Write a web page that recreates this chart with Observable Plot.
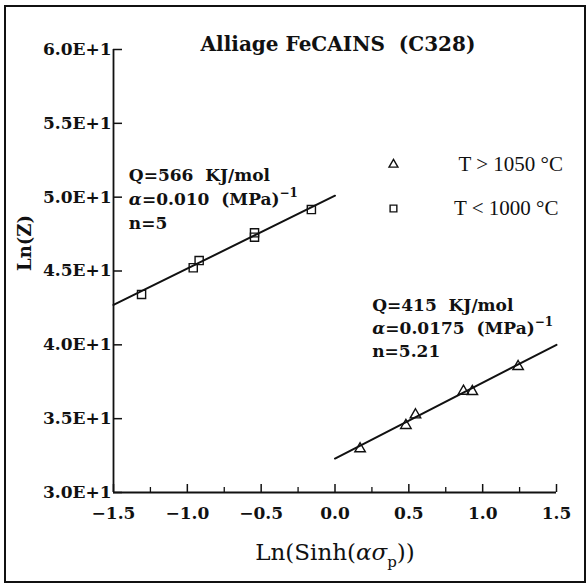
<!DOCTYPE html>
<html>
<head>
<meta charset="utf-8">
<script src="https://cdn.jsdelivr.net/npm/d3@7"></script>
<script src="https://cdn.jsdelivr.net/npm/@observablehq/plot@0.6"></script>
<style>
  html, body { margin: 0; padding: 0; background: #fff; }
  #wrap { position: relative; width: 588px; height: 584px; overflow: hidden; background: #fff; }
  #frame { position: absolute; left: 4px; top: 5px; width: 578px; height: 574px; border: 2px solid #111; pointer-events: none; }
</style>
</head>
<body>
<div id="wrap"><div id="frame"></div></div>
<script>
// ---- data ----
const squareX = [-1.31, -0.96, -0.92, -0.545, -0.545, -0.16];
const squareY = [43.41, 45.22, 45.71, 47.29, 47.59, 49.16];
const triangleX = [0.17, 0.48, 0.545, 0.87, 0.93, 1.24];
const triangleY = [32.96, 34.54, 35.26, 36.86, 36.84, 38.53];
const fitUpperX = [-1.5, 0.0];
const fitUpperY = [42.7, 50.1];
const fitLowerX = [0.0, 1.5];
const fitLowerY = [32.3, 40.0];
const xMajorTicks = [-1.5, -1.0, -0.5, 0.0, 0.5, 1.0, 1.5];
const xMinorTicks = [-1.25, -0.75, -0.25, 0.25, 0.75, 1.25];
const yMajorTicks = [30, 35, 40, 45, 50, 55, 60];
const titleText = "Alliage FeCAINS  (C328)";
const xLabel = "Ln(Sinh(ασ{sub:p}))";
const yLabel = "Ln(Z)";
const upperNote = ["Q=566  KJ/mol", "α=0.010  (MPa){sup:−1}", "n=5"];
const lowerNote = ["Q=415  KJ/mol", "α=0.0175  (MPa){sup:−1}", "n=5.21"];
const legendLabels = ["T > 1050 °C", "T < 1000 °C"];
const legendSymbols = ["triangle", "square"];

const squares = squareX.map((x, i) => ({x, y: squareY[i]}));
const triangles = triangleX.map((x, i) => ({x, y: triangleY[i]}));
const fitUpper = fitUpperX.map((x, i) => ({x, y: fitUpperY[i]}));
const fitLower = fitLowerX.map((x, i) => ({x, y: fitLowerY[i]}));

const serif = "DejaVu Serif";
const noteFont = {fontFamily: serif, fontWeight: "bold", fontSize: 17, textAnchor: "start", lineAnchor: "middle", fill: "#111"};

const chart = Plot.plot({
  width: 588,
  height: 584,
  marginLeft: 113,
  marginRight: 32,
  marginTop: 49,
  marginBottom: 92,
  x: {domain: [-1.5, 1.5]},
  y: {domain: [30, 60]},
  style: {fontFamily: serif, fontSize: "17px", fontWeight: "bold", background: "white", color: "#111"},
  marks: [
    // axis lines
    Plot.ruleY([30], {stroke: "#111", strokeWidth: 1.8}),
    Plot.ruleX([-1.5], {stroke: "#111", strokeWidth: 1.8}),
    // inward ticks
    Plot.ruleX(xMajorTicks, {x: d => d, insetTop: 435, stroke: "#111", strokeWidth: 1.5}),
    Plot.ruleX(xMinorTicks, {x: d => d, insetTop: 438, stroke: "#111", strokeWidth: 1.3}),
    Plot.ruleY(yMajorTicks, {y: d => d, insetRight: 434, stroke: "#111", strokeWidth: 1.5}),
    // tick labels
    Plot.axisX(xMajorTicks, {tickSize: 0, tickPadding: 14, tickFormat: d3.format(".1f"), label: null, fontSize: 17, fontWeight: "bold"}),
    Plot.axisY(yMajorTicks, {tickSize: 0, tickPadding: 2, tickFormat: d => (d / 10).toFixed(1) + "E+1", label: null, fontSize: 17, fontWeight: "bold"}),
    // fit lines
    Plot.line(fitUpper, {x: "x", y: "y", stroke: "#111", strokeWidth: 2}),
    Plot.line(fitLower, {x: "x", y: "y", stroke: "#111", strokeWidth: 2}),
    // data points
    Plot.dot(squares, {x: "x", y: "y", symbol: "square", r: 4.6, stroke: "#111", strokeWidth: 1.4, fill: "none"}),
    Plot.dot(triangles, {x: "x", y: "y", symbol: "triangle", r: 3.9, stroke: "#111", strokeWidth: 1.4, fill: "none"}),
    // legend
    ...legendLabels.map((lab, i) => Plot.dot([lab], {x: 0.396, y: 52.21 - i * 2.98, symbol: legendSymbols[i], r: legendSymbols[i] === "square" ? 3.8 : 3.3, stroke: "#111", strokeWidth: 1.4, fill: "none"})),
    ...legendLabels.map((lab, i) => Plot.text([lab], {x: 0.836 - i * 0.03, y: 52.21 - i * 2.98, text: d => d, fontFamily: "Liberation Serif", fontWeight: "normal", fontSize: 21, textAnchor: "start", lineAnchor: "middle", fill: "#111"})),
    // annotations
    ...upperNote.map((t, i) => Plot.text([t], {x: -1.396, y: 51.47, dy: i * 24, text: d => d, ...noteFont})),
    ...lowerNote.map((t, i) => Plot.text([t], {x: 0.252, y: 42.66, dy: i * 23, text: d => d, ...noteFont})),
    // title & axis labels
    Plot.text([titleText], {frameAnchor: "top", dx: 3, dy: -5, text: d => d, fontFamily: serif, fontWeight: "bold", fontSize: 20, lineAnchor: "middle", fill: "#111"}),
    Plot.text([xLabel], {frameAnchor: "bottom", dy: 60, text: d => d, fontFamily: serif, fontWeight: "normal", fontSize: 23, lineAnchor: "middle", fill: "#111"}),
    Plot.text([yLabel], {frameAnchor: "left", dx: -88, rotate: -90, text: d => d, fontFamily: serif, fontWeight: "bold", fontSize: 18, lineAnchor: "middle", fill: "#111"})
  ]
});

document.getElementById("wrap").insertBefore(chart, document.getElementById("frame"));

// rich text: italic greek, superscripts, subscripts
const NS = "http://www.w3.org/2000/svg";
d3.select(chart).selectAll("text").each(function () {
  const s = this.textContent;
  if (!/[ασ{]/.test(s)) return;
  const parts = s.split(/(\{sup:[^}]*\}|\{sub:[^}]*\}|[ασ]+)/).filter(p => p.length);
  while (this.firstChild) this.removeChild(this.firstChild);
  let pending = 0;
  for (const p of parts) {
    const ts = document.createElementNS(NS, "tspan");
    let m;
    if ((m = p.match(/^\{sup:(.*)\}$/))) {
      ts.textContent = m[1];
      ts.setAttribute("font-size", "12");
      ts.setAttribute("dy", String(-8 - pending));
      pending = -8;
    } else if ((m = p.match(/^\{sub:(.*)\}$/))) {
      ts.textContent = m[1];
      ts.setAttribute("font-size", "15");
      ts.setAttribute("dy", String(7 - pending));
      pending = 7;
    } else {
      ts.textContent = p;
      if (/^[ασ]+$/.test(p)) ts.setAttribute("font-style", "italic");
      if (pending) { ts.setAttribute("dy", String(-pending)); pending = 0; }
    }
    this.appendChild(ts);
  }
});
</script>
</body>
</html>
